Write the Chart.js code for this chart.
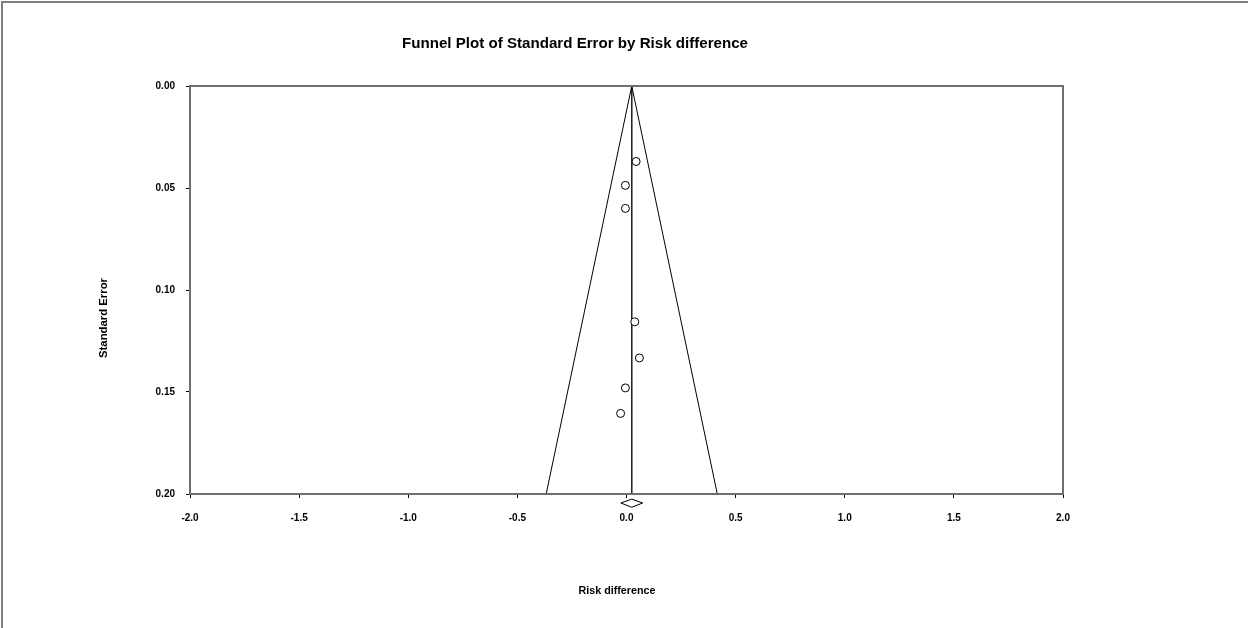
<!DOCTYPE html>
<html><head><meta charset="utf-8">
<script src="https://cdn.jsdelivr.net/npm/chart.js@4/dist/chart.umd.min.js"></script>
<style>html,body{margin:0;padding:0;background:#fff}#wrap{width:1248px;height:628px}</style>
</head><body><div id="wrap"><canvas id="c" width="1248" height="628"></canvas></div>
<script>
// ---- data ----
const studyRiskDiff = [0.044, -0.005, -0.005, 0.038, 0.059, -0.005, -0.027];
const studySE       = [0.037, 0.0487, 0.060, 0.1156, 0.1333, 0.148, 0.1605];
const combinedEstimate = 0.024;
const combinedHalfWidth = 0.05;
const diamondSE = [0.2044, 0.2025, 0.2065];   // row under the axis: middle, top, bottom
const funnelMaxSE = 0.2;
const zCrit = 1.96;
const xTickLabels = ['-2.0','-1.5','-1.0','-0.5','0.0','0.5','1.0','1.5','2.0'];
const yTickLabels = ['0.00','0.05','0.10','0.15','0.20'];
const titleText = 'Funnel Plot of Standard Error by Risk difference';
const xTitleText = 'Risk difference';
const yTitleText = 'Standard Error';

// ---- build datasets ----
const studyPoints = studyRiskDiff.map((x, i) => ({x, y: studySE[i]}));
const leftFunnel = [{x: combinedEstimate, y: 0}, {x: combinedEstimate - zCrit * funnelMaxSE, y: funnelMaxSE}];
const rightFunnel = [{x: combinedEstimate, y: 0}, {x: combinedEstimate + zCrit * funnelMaxSE, y: funnelMaxSE}];
const centreLine = [{x: combinedEstimate, y: 0}, {x: combinedEstimate, y: funnelMaxSE}];
const diamond = [
  {x: combinedEstimate - combinedHalfWidth, y: diamondSE[0]},
  {x: combinedEstimate, y: diamondSE[1]},
  {x: combinedEstimate + combinedHalfWidth, y: diamondSE[0]},
  {x: combinedEstimate, y: diamondSE[2]},
  {x: combinedEstimate - combinedHalfWidth, y: diamondSE[0]}
];

function fitText(ctx, text, cx, cy, targetW, font, rot) {
  ctx.save();
  ctx.font = font;
  ctx.fillStyle = '#000';
  ctx.textAlign = 'center';
  ctx.textBaseline = 'alphabetic';
  const w = ctx.measureText(text).width;
  ctx.translate(cx, cy);
  if (rot) ctx.rotate(rot);
  ctx.scale(targetW / w, 1);
  ctx.fillText(text, 0, 0);
  ctx.restore();
}

const decor = {
  id: 'decor',
  beforeDraw(chart) {
    const ctx = chart.ctx;
    ctx.save();
    ctx.fillStyle = '#fff';
    ctx.fillRect(0, 0, chart.width, chart.height);
    ctx.strokeStyle = '#7f7f7f';
    ctx.lineWidth = 2;
    ctx.beginPath();
    ctx.moveTo(2, chart.height + 5);
    ctx.lineTo(2, 2);
    ctx.lineTo(chart.width + 5, 2);
    ctx.stroke();
    ctx.restore();
  },
  afterDraw(chart) {
    const ctx = chart.ctx;
    const a = chart.chartArea;
    ctx.save();
    ctx.strokeStyle = '#6f6f6f';
    ctx.lineWidth = 2;
    ctx.strokeRect(a.left, a.top, a.right - a.left, a.bottom - a.top);
    ctx.restore();
    fitText(ctx, titleText, 575, 48, 346, 'bold 14px "Liberation Sans", Arial, sans-serif');
    fitText(ctx, xTitleText, 617, 594, 77, 'bold 10px "Liberation Sans", Arial, sans-serif');
    fitText(ctx, yTitleText, 107, 318, 80, 'bold 10px "Liberation Sans", Arial, sans-serif', -Math.PI / 2);
  }
};

const tickFont = {family: '"Liberation Sans", Arial, sans-serif', size: 10, weight: 'bold'};

new Chart(document.getElementById('c'), {
  type: 'scatter',
  data: {
    datasets: [
      {data: studyPoints, order: 0, pointStyle: 'circle', pointRadius: 4, pointHoverRadius: 4,
       borderColor: '#000', backgroundColor: '#fff', borderWidth: 1, showLine: false},
      {data: leftFunnel, order: 1, showLine: true, pointRadius: 0, borderColor: '#000', borderWidth: 1},
      {data: rightFunnel, order: 1, showLine: true, pointRadius: 0, borderColor: '#000', borderWidth: 1},
      {data: centreLine, order: 1, showLine: true, pointRadius: 0, borderColor: '#222', borderWidth: 1},
      {data: diamond, order: 1, showLine: true, pointRadius: 0, borderColor: '#000', borderWidth: 1, clip: false, tension: 0}
    ]
  },
  options: {
    responsive: false,
    animation: false,
    devicePixelRatio: 1,
    layout: {padding: {left: 0, top: 86, right: 185, bottom: 0}},
    plugins: {legend: {display: false}, title: {display: false}, tooltip: {enabled: false}},
    events: [],
    scales: {
      x: {
        type: 'linear', min: -2, max: 2,
        afterBuildTicks(s) { s.ticks = xTickLabels.map(t => ({value: parseFloat(t)})); },
        ticks: {callback: (v, i) => xTickLabels[i], font: tickFont, color: '#000', padding: 14, maxRotation: 0, autoSkip: false},
        grid: {display: true, drawOnChartArea: false, drawTicks: true, tickLength: 4, color: '#000', lineWidth: 1},
        border: {display: false},
        afterFit(s) { s.height = 134; }
      },
      y: {
        type: 'linear', min: 0, max: 0.2, reverse: true,
        afterBuildTicks(s) { s.ticks = yTickLabels.map(t => ({value: parseFloat(t)})); },
        ticks: {callback: (v, i) => yTickLabels[i], font: tickFont, color: '#000', padding: 11, autoSkip: false},
        grid: {display: true, drawOnChartArea: false, drawTicks: true, tickLength: 4, color: '#000', lineWidth: 1},
        border: {display: false},
        afterFit(s) { s.width = 190; }
      }
    }
  },
  plugins: [decor]
});
</script>
</body></html>
